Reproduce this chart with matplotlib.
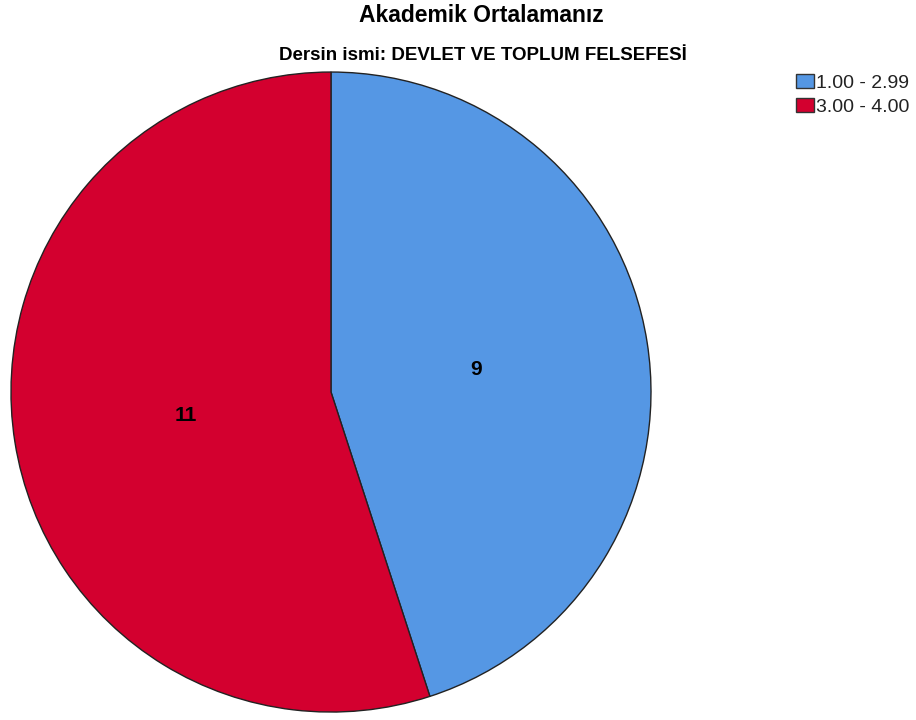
import matplotlib
matplotlib.use("Agg")
import matplotlib.pyplot as plt
from matplotlib.patches import Patch

plt.rcParams['font.family'] = ['Liberation Sans', 'DejaVu Sans']

categories = ["1.00 - 2.99", "3.00 - 4.00"]
counts = [9, 11]
colors = ["#5597e4", "#d3002f"]
title = "Akademik Ortalamanız"
subtitle = "Dersin ismi: DEVLET VE TOPLUM FELSEFESİ"

fig = plt.figure(figsize=(9.16, 7.2), dpi=100)
ax = fig.add_axes([0.012, 0.011, 0.6987, 0.889])
wedges, texts, autotexts = ax.pie(
    counts, colors=colors, startangle=90, counterclock=False,
    autopct=lambda p: f"{round(p * sum(counts) / 100):d}", pctdistance=0.46,
    wedgeprops=dict(edgecolor="#222222", linewidth=1.0),
    textprops=dict(fontsize=15, fontweight="bold", color="black"))
ax.set_aspect("equal")
ax.set_xlim(-1.0, 1.0)
ax.set_ylim(-1.0, 1.0)

fig.text(0.526, 0.979, title, ha="center", va="center", fontsize=16.5, fontweight="bold")
fig.text(0.527, 0.923, subtitle, ha="center", va="center", fontsize=13.5, fontweight="bold")

handles = [Patch(facecolor=c, edgecolor="#333333", linewidth=1.0) for c in colors]
fig.legend(handles, categories, loc="upper left", bbox_to_anchor=(0.869, 0.897),
           frameon=False, fontsize=14, handlelength=0.93, handleheight=0.72,
           handletextpad=0.08, labelspacing=0.33, borderpad=0, borderaxespad=0,
           labelcolor="#222222")

fig.savefig("out.png", dpi=100)
